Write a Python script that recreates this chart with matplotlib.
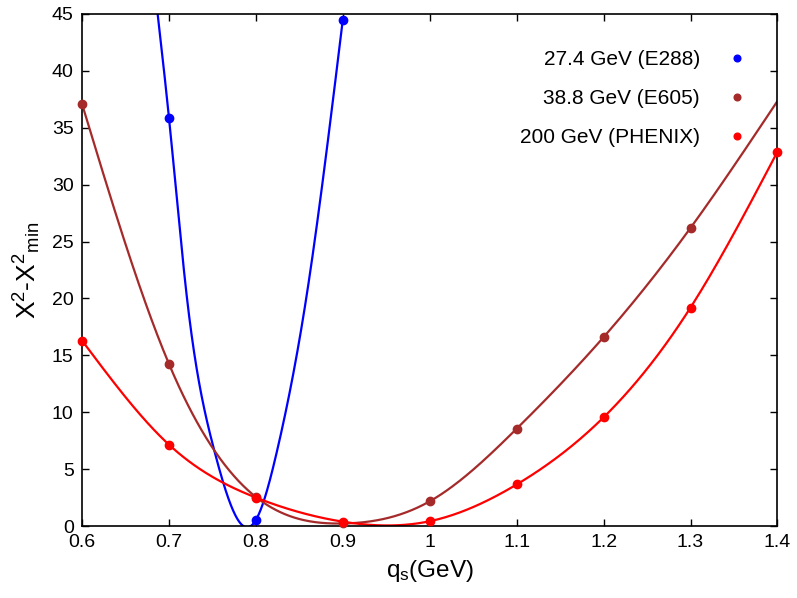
import numpy as np
import matplotlib
matplotlib.use("Agg")
from matplotlib import pyplot as plt

plt.rcParams['font.family'] = ['Liberation Sans', 'DejaVu Sans']
plt.rcParams['mathtext.default'] = 'regular'

# markers (q_s in GeV, chi2 - chi2_min)
qE288 = [0.7, 0.8, 0.9]
chiE288 = [35.9, 0.53, 44.5]
qE605 = [0.6, 0.7, 0.8, 0.9, 1.0, 1.1, 1.2, 1.3]
chiE605 = [37.1, 14.25, 2.55, 0.22, 2.17, 8.55, 16.6, 26.2]
qPHENIX = [0.6, 0.7, 0.8, 0.9, 1.0, 1.1, 1.2, 1.3, 1.4]
chiPHENIX = [16.3, 7.15, 2.5, 0.38, 0.42, 3.65, 9.55, 19.2, 32.9]

# points
curveE288_q = [0.687, 0.7, 0.721, 0.752, 0.7855, 0.8, 0.8246, 0.8576, 0.9]
curveE288_chi = [45.0, 35.9, 19.86, 6.68, 0.0, 0.53, 6.68, 19.86, 44.5]
curveE605_q = qE605 + [1.4]
curveE605_chi = chiE605 + [37.35]
curvePHENIX_q = qPHENIX
curvePHENIX_chi = chiPHENIX

labels = ["27.4 GeV (E288)", "38.8 GeV (E605)", "200 GeV (PHENIX)"]
colors = ['#0000ff', '#a52a2a', '#ff0000']


def spline(x, y, xs):
    # natural cubic spline through the read points
    x = np.asarray(x, float)
    y = np.asarray(y, float)
    n = len(x)
    h = np.diff(x)
    A = np.zeros((n, n))
    r = np.zeros(n)
    A[0, 0] = A[-1, -1] = 1
    for i in range(1, n - 1):
        A[i, i - 1] = h[i - 1]
        A[i, i] = 2 * (h[i - 1] + h[i])
        A[i, i + 1] = h[i]
        r[i] = 3 * ((y[i + 1] - y[i]) / h[i] - (y[i] - y[i - 1]) / h[i - 1])
    c = np.linalg.solve(A, r)
    b = (y[1:] - y[:-1]) / h - h * (2 * c[:-1] + c[1:]) / 3
    d = (c[1:] - c[:-1]) / (3 * h)
    k = np.clip(np.searchsorted(x, xs) - 1, 0, n - 2)
    t = xs - x[k]
    return y[k] + b[k] * t + c[k] * t ** 2 + d[k] * t ** 3


fig = plt.figure(figsize=(7.97, 5.98), dpi=100)
ax = fig.add_axes([0.1029, 0.1204, 0.8726, 0.8562])

curves = [(curveE288_q, curveE288_chi), (curveE605_q, curveE605_chi),
          (curvePHENIX_q, curvePHENIX_chi)]
points = [(qE288, chiE288), (qE605, chiE605), (qPHENIX, chiPHENIX)]

for (cq, cc), (pq, pc), col, lab in zip(curves, points, colors, labels):
    xs = np.linspace(cq[0], cq[-1], 600)
    ax.plot(xs, spline(cq, cc, xs), '-', color=col, lw=1.6)
    ax.plot(pq, pc, 'o', ms=6, color=col, label=lab, clip_on=False, zorder=3)

ax.set_xlim(0.6, 1.4)
ax.set_ylim(0, 45)
ax.set_xticks(np.arange(0.6, 1.41, 0.1))
ax.set_yticks(np.arange(0, 46, 5))
ax.xaxis.set_major_formatter(matplotlib.ticker.FormatStrFormatter('%g'))
ax.tick_params(direction='in', top=True, right=True, length=5, width=1,
               labelsize=14, pad=6)
for s in ax.spines.values():
    s.set_linewidth(1.2)

ax.set_xlabel('q$_{s}$(GeV)', fontsize=17.5, labelpad=5)
ax.set_ylabel('Χ$^{2}$-Χ$^{2}$$_{min}$', fontsize=19, labelpad=6)

leg = ax.legend(loc='upper right', bbox_to_anchor=(0.9567, 0.93), frameon=False,
                markerfirst=False, fontsize=15, handlelength=1.0,
                handletextpad=1.28, labelspacing=0.97, markerscale=0.8,
                borderpad=0, borderaxespad=0)

plt.savefig('out.png', dpi=100)
